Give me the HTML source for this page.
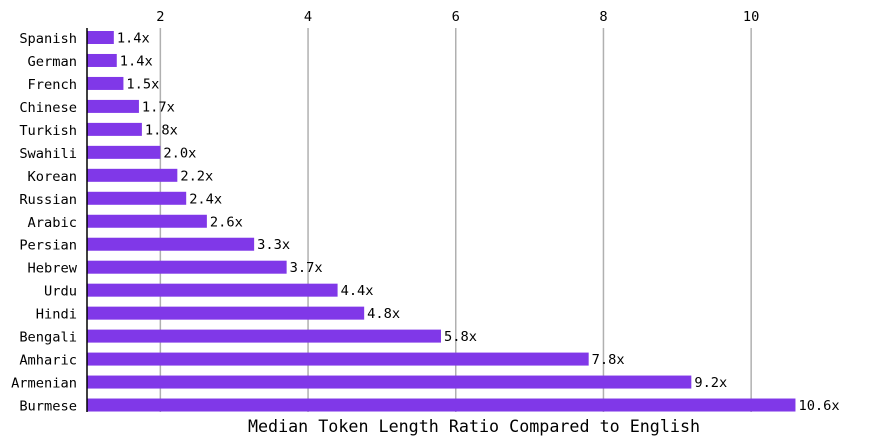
<!DOCTYPE html>
<html><head><meta charset="utf-8"><style>
html,body{margin:0;padding:0;background:#fff;}
svg{display:block;font-family:"DejaVu Sans Mono","Liberation Mono",monospace;}
</style></head><body>
<svg id="chart" width="871" height="444"></svg>
<script>
const languages=["Spanish","German","French","Chinese","Turkish","Swahili","Korean","Russian","Arabic","Persian","Hebrew","Urdu","Hindi","Bengali","Amharic","Armenian","Burmese"];
const ratios=[1.37,1.41,1.5,1.71,1.75,2.0,2.23,2.35,2.63,3.27,3.71,4.4,4.76,5.8,7.8,9.19,10.6];
const ratioLabels=["1.4x","1.4x","1.5x","1.7x","1.8x","2.0x","2.2x","2.4x","2.6x","3.3x","3.7x","4.4x","4.8x","5.8x","7.8x","9.2x","10.6x"];
const xTicks=[2,4,6,8,10];
const svg=document.getElementById('chart');
const NS='http://www.w3.org/2000/svg';
const x=v=>86.5+(v-1)*73.85;
const yC=i=>37.5+i*22.97;
function mk(tag,attrs,text){const e=document.createElementNS(NS,tag);for(const k in attrs)e.setAttribute(k,attrs[k]);if(text!=null)e.textContent=text;svg.appendChild(e);return e;}
xTicks.forEach(t=>{
  const g=mk('line',{x1:x(t),x2:x(t),y1:28,y2:412,stroke:'#b0b0b0','stroke-width':1.5});
  
  
  const l=mk('text',{x:x(t),y:21,'text-anchor':'middle','font-size':13.7,fill:'#000'},t);
  
  
});
languages.forEach((lang,i)=>{
  const r=mk('rect',{x:87,y:yC(i)-6.5,width:x(ratios[i])-87,height:13,fill:'#8038e8'});
  
  
  const v=mk('text',{x:x(ratios[i])+3,y:yC(i)+5,'font-size':13.7,fill:'#000'},ratioLabels[i]);
  
  
  const c=mk('text',{x:77,y:yC(i)+5.5,'text-anchor':'end','font-size':13.7,fill:'#000'},lang);
  
  
});
const ax=mk('line',{x1:87,x2:87,y1:28,y2:412,stroke:'#000','stroke-width':1.5});


const tt=mk('text',{x:474,y:432,'text-anchor':'middle','font-size':16.7,fill:'#000'},'Median Token Length Ratio Compared to English');


</script>
</body></html>
